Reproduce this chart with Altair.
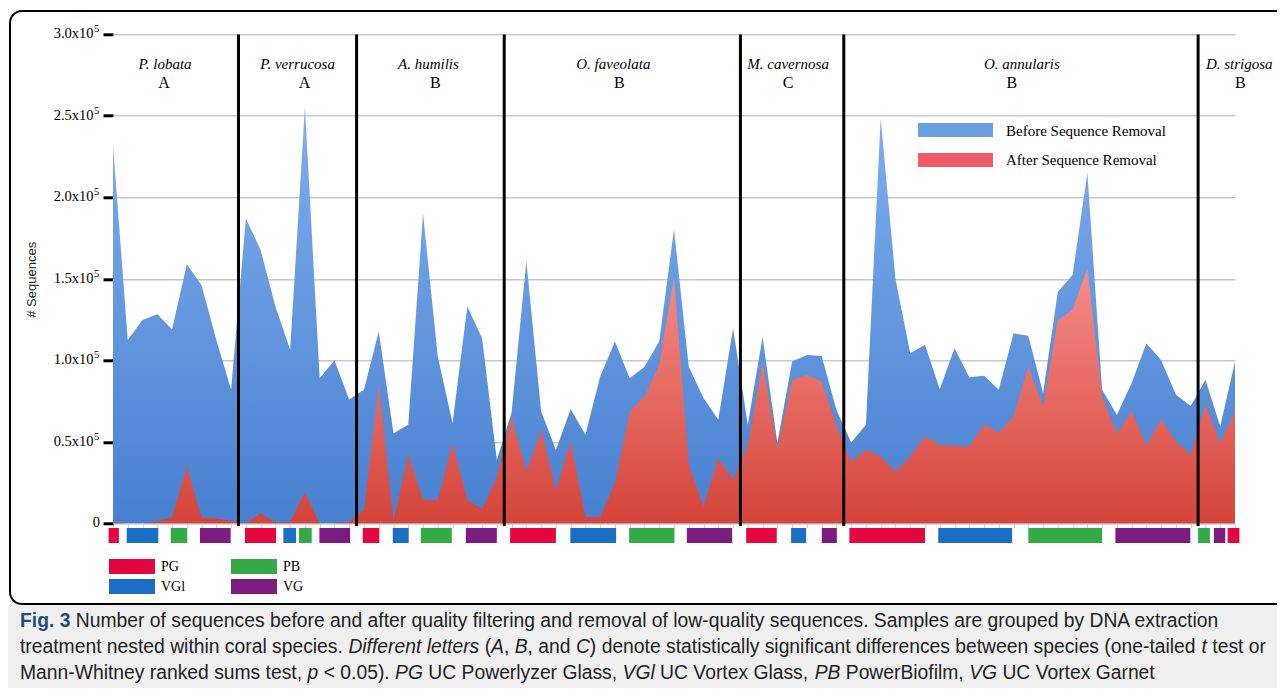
import altair as alt
import pandas as pd

# ---------------- data ----------------
species = ["P. lobata", "P. verrucosa", "A. humilis", "O. faveolata",
           "M. cavernosa", "O. annularis", "D. strigosa"]
letters = ["A", "A", "B", "B", "C", "B", "B"]
species_n = [9, 8, 10, 16, 7, 24, 3]

# sequences (thousands) per sample, before / after removal
before_k = [232, 112.5, 124.8, 128.3, 119, 159, 146, 112.5, 81.9,
            187, 167.7, 133, 106.4, 255.6, 89, 100, 76,
            82, 117.6, 55.3, 60.4, 190, 102.3, 61.4, 133, 113.6, 38.9,
            68, 161, 68.6, 45, 70, 54.3, 90, 111.5, 89, 96, 111.5, 180.4, 96, 76.8, 63.5, 119.7,
            60.4, 114.5, 49.2, 99.2, 103.3, 102.7, 69.6,
            49.5, 60.4, 248.5, 150, 104.4, 109.5, 82.3, 107.4, 89.6, 90.5, 81.9, 116.6,
            115, 79.8, 142, 152.4, 215, 81.9, 66.5, 86, 110.5, 100, 78.8, 72,
            88, 59.4, 99.2]
after_k = [0.5, 0, 0, 1, 3.8, 34.8, 3.6, 3, 1.5,
           0, 6.2, 0.5, 1, 19, 0, 0, 1,
           8.3, 85, 1.5, 42, 14.4, 14.4, 49.2, 14.4, 8.7, 28.7,
           65.5, 31.8, 57.3, 20.5, 50.2, 3.8, 3.8, 24.6, 68.6, 77.8, 97.2, 151, 35.9, 10.3, 40, 26.7,
           48.1, 98.2, 46.1, 88, 91, 87, 60,
           37.9, 45, 41, 31.8, 41, 53.2, 48.1, 47.7, 47.1, 60.4, 55.7, 65.5,
           96.2, 71.6, 124.8, 131, 156.5, 77.8, 55.3, 68.6, 48.1, 63.5, 50.2, 42,
           72.7, 49.2, 68.6]

treatments = ["PG", "VGl", "PB", "VG"]
treatment_colors = ["#e3063f", "#1a6fc4", "#33aa44", "#7b1c80"]
seg_treatment = ["PG", "VGl", "PB", "VG",
                 "PG", "VGl", "PB", "VG",
                 "PG", "VGl", "PB", "VG",
                 "PG", "VGl", "PB", "VG",
                 "PG", "VGl", "VG",
                 "PG", "VGl", "PB", "VG",
                 "PB", "VG", "PG"]
seg_start = [-0.3, 0.93, 3.91, 5.89, 8.94, 11.54, 12.6, 13.98, 16.92, 18.95, 20.85, 23.9,
             26.9, 30.98, 34.96, 38.87, 42.89, 45.93, 48.01, 49.88, 55.9, 62.0, 67.9,
             73.5, 74.57, 75.5]
seg_end = [0.4, 3.07, 5.03, 7.97, 11.04, 12.4, 13.46, 16.06, 18.04, 20.03, 22.95, 26.0,
           30.0, 34.08, 38.03, 41.94, 44.96, 46.95, 49.03, 55.0, 60.9, 67.0, 72.97,
           74.3, 75.34, 76.3]

y_ticks = [0, 50000, 100000, 150000, 200000, 250000, 300000]
y_exponent = "5"

caption = [
    [("Fig. 3", "b"), (" Number of sequences before and after quality filtering and removal of "
                       "low-quality sequences. Samples are grouped by DNA extraction", "r")],
    [("treatment nested within coral species. ", "r"), ("Different letters", "i"), (" (", "r"),
     ("A", "i"), (", ", "r"), ("B", "i"), (", and ", "r"), ("C", "i"),
     (") denote statistically significant differences between species (one-tailed ", "r"),
     ("t", "i"), (" test or", "r")],
    [("Mann-Whitney ranked sums test, ", "r"), ("p", "i"), (" < 0.05). ", "r"), ("PG", "i"),
     (" UC Powerlyzer Glass, ", "r"), ("VGl", "i"), (" UC Vortex Glass, ", "r"), ("PB", "i"),
     (" PowerBiofilm, ", "r"), ("VG", "i"), (" UC Vortex Garnet", "r")],
]

# ---------------- layout ----------------
X0, Y0 = 113.0, 34.3          # page position of plot origin
W, H = 1122, 489
CANVAS_W, CANVAS_H = 1269, 680
def vx(px): return px - X0
def vy(py): return py - Y0

SERIF = "Liberation Serif"
CAP_FONT = "Liberation Sans"

# Arial-compatible advance widths (per 1000 em)
_R = {' ': 278, '(': 333, ')': 333, ',': 278, '-': 333, '.': 278, '<': 584, '=': 584}
for c in "0123456789": _R[c] = 556
_R.update(dict(zip("ABCDEFGHIJKLMNOPQRSTUVWXYZ",
                   [667, 667, 722, 722, 667, 611, 778, 722, 278, 500, 667, 556, 833, 722, 778,
                    667, 778, 722, 667, 611, 722, 667, 944, 667, 667, 611])))
_R.update(dict(zip("abcdefghijklmnopqrstuvwxyz",
                   [556, 556, 500, 556, 556, 278, 556, 556, 222, 222, 500, 222, 833, 556, 556,
                    556, 556, 333, 500, 278, 556, 500, 722, 500, 500, 500])))
_B = dict(_R)
_B.update({'g': 611, 'i': 278, 'F': 611})

def text_w(s, size, style):
    t = _B if style == "b" else _R
    return sum(t.get(ch, 556) for ch in s) * size / 1000.0

CAP_X = 20.0
CAP_RIGHTS = [1250.0, 1266.0, 1266.0]
CAP_SIZE = min((r - CAP_X) / sum(text_w(s, 1000, st) for s, st in segs) * 1000
               for r, segs in zip(CAP_RIGHTS, caption))
CAP_BASE = [627, 653, 679]

# ---------------- tables ----------------
n = len(before_k)
df = pd.DataFrame({"idx": list(range(n)),
                   "before": [v * 1000 for v in before_k],
                   "after": [v * 1000 for v in after_k]})

bounds = []
acc = 0
for k in species_n[:-1]:
    acc += k
    bounds.append(acc - 0.5)
lines_df = pd.DataFrame({"b": bounds})

centers = []
acc = 0
for k in species_n:
    centers.append(acc + (k - 1) / 2)
    acc += k
step = W / (n - 1)
name_shift_px = [-7, 0, -2, -9, -4, 1, 19]
letter_shift_px = [-8, 7, 5, -3, -4, -9, 20]
lab_df = pd.DataFrame({"species": species, "letter": letters,
                       "cn": [c + s / step for c, s in zip(centers, name_shift_px)],
                       "cl": [c + s / step for c, s in zip(centers, letter_shift_px)]})

seg_df = pd.DataFrame({"t": seg_treatment, "s": seg_start, "e": seg_end})
exp_df = pd.DataFrame({"v": [v for v in y_ticks if v > 0]})
zero_df = pd.DataFrame({"v": [v for v in y_ticks if v == 0]})
one = pd.DataFrame({"k": [0]})

xs = alt.Scale(domain=[0, n - 1], nice=False, zero=False)
ys = alt.Scale(domain=[0, 300000], nice=False)

blue_grad = alt.LinearGradient(gradient="linear", x1=0, x2=0, y1=0, y2=1,
                               stops=[alt.GradientStop(color="#80aeec", offset=0),
                                      alt.GradientStop(color="#4880d0", offset=1)])
red_grad = alt.LinearGradient(gradient="linear", x1=0, x2=0, y1=0, y2=1,
                              stops=[alt.GradientStop(color="#f58d87", offset=0),
                                     alt.GradientStop(color="#d5453b", offset=1)])

y_axis = alt.Axis(values=y_ticks, labels=False,
                  domain=False, ticks=True, tickColor="black", tickWidth=3, tickSize=10,
                  grid=True, gridColor="#c8c8c8", gridWidth=1.5,
                  title="# Sequences", titleFont="Liberation Sans", titleFontSize=13,
                  titleFontWeight="normal", titleColor="#222222", titleX=-75, titleY=245)
x_axis = alt.Axis(values=list(range(n)), labels=False, title=None, grid=False,
                  domain=True, domainColor="#dccfcf", domainWidth=1,
                  tickColor="#dccfcf", tickSize=4, tickWidth=1)

def X(field):
    return alt.X(field, scale=xs, axis=x_axis)

def Y(field):
    return alt.Y(field, scale=ys, axis=y_axis)

blue = alt.Chart(df).mark_area(color=blue_grad, opacity=1, interpolate="linear").encode(
    x=X("idx:Q"), y=Y("before:Q"))
red = alt.Chart(df).mark_area(color=red_grad, opacity=1, interpolate="linear").encode(
    x=X("idx:Q"), y=Y("after:Q"))

# y tick labels: mantissa "x10" with raised exponent, and plain "0"
ylab = alt.Chart(exp_df).transform_calculate(
    lab="format(datum.v / 100000, '.1f') + 'x10'"
).mark_text(font=SERIF, fontSize=14.5, align="right", baseline="middle",
            color="black").encode(x=alt.value(vx(93.5)), y=Y("v:Q"), text="lab:N")
ysup = alt.Chart(exp_df).mark_text(text=y_exponent, font=SERIF, fontSize=10.5, align="left",
                                   baseline="middle", dy=-5, color="black").encode(
    x=alt.value(vx(94)), y=Y("v:Q"))
yzero = alt.Chart(zero_df).transform_calculate(lab="format(datum.v, 'd')").mark_text(
    font=SERIF, fontSize=14.5, align="right", baseline="middle", color="black").encode(
    x=alt.value(vx(100)), y=Y("v:Q"), text="lab:N")

sep = alt.Chart(lines_df).mark_rule(color="black", strokeWidth=3).encode(
    x=X("b:Q"), y=alt.value(vy(34.5)), y2=alt.value(vy(526)))

names = alt.Chart(lab_df).mark_text(font=SERIF, fontStyle="italic", fontSize=15,
                                    color="black", baseline="middle").encode(
    x=X("cn:Q"), y=alt.value(vy(63.5)), text="species:N")
lets = alt.Chart(lab_df).mark_text(font=SERIF, fontSize=16, color="black",
                                   baseline="middle").encode(
    x=X("cl:Q"), y=alt.value(vy(82.5)), text="letter:N")

tbars = alt.Chart(seg_df).mark_rect().encode(
    x=X("s:Q"), x2="e:Q",
    y=alt.value(vy(528)), y2=alt.value(vy(543)),
    color=alt.Color("t:N", scale=alt.Scale(domain=treatments, range=treatment_colors),
                    legend=None))

def rect(px1, py1, px2, py2, **kw):
    return alt.Chart(one).mark_rect(**kw).encode(
        x=alt.value(vx(px1)), x2=alt.value(vx(px2)),
        y=alt.value(vy(py1)), y2=alt.value(vy(py2)))

def txt(s, px, py, **kw):
    return alt.Chart(one).mark_text(text=s, align="left", **kw).encode(
        x=alt.value(vx(px)), y=alt.value(vy(py)))

layers = []
# frame + caption box
layers.append(rect(0, 604, 1300, 700, color="#efefef"))
layers.append(rect(10, 11, 1300, 604, fillOpacity=0, stroke="black", strokeWidth=2,
                   cornerRadius=12))
layers += [blue, red, ylab, ysup, yzero, sep, names, lets, tbars]

# series legend
layers.append(rect(918, 123, 993, 137, color="#6a9ee2"))
layers.append(rect(918, 153, 993, 167, color="#ef5b67"))
layers.append(txt("Before Sequence Removal", 1006, 131, font=SERIF, fontSize=15,
                  baseline="middle", color="black"))
layers.append(txt("After Sequence Removal", 1006, 160, font=SERIF, fontSize=15,
                  baseline="middle", color="black"))

# treatment legend
leg_pos = [(109, 559), (109, 579), (231, 559), (231, 579)]
for (px, py), name, col in zip(leg_pos, treatments, treatment_colors):
    layers.append(rect(px, py, px + 46, py + 15, color=col))
    layers.append(txt(name, px + 52, py + 7.5, font=SERIF, fontSize=14, baseline="middle",
                      color="black"))

# caption
for base, segs in zip(CAP_BASE, caption):
    cx = CAP_X
    for s, st in segs:
        lead = len(s) - len(s.lstrip(" "))
        stripped = s.strip(" ")
        if stripped:
            kw = dict(font=CAP_FONT, fontSize=CAP_SIZE, baseline="alphabetic", color="#222222")
            if st == "b":
                kw["fontWeight"] = "bold"
                kw["color"] = "#1f4e79"
            if st == "i":
                kw["fontStyle"] = "italic"
            layers.append(txt(stripped, cx + text_w(" " * lead, CAP_SIZE, st), base, **kw))
        cx += text_w(s, CAP_SIZE, st)

chart = alt.layer(*layers).properties(
    width=W, height=H,
    autosize=alt.AutoSizeParams(type="none"),
    padding={"left": X0 - 8, "top": Y0 - 8,
             "right": CANVAS_W - (X0 - 8) - W, "bottom": CANVAS_H - (Y0 - 8) - H},
    background="white",
).configure_view(stroke=None)

chart.save("out.html", embed_options={"renderer": "svg", "actions": False})
